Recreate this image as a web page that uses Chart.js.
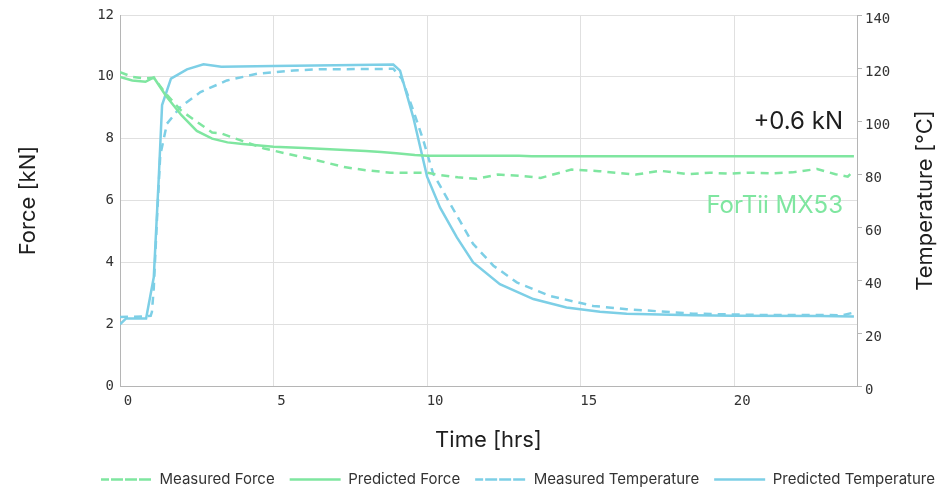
<!DOCTYPE html>
<html lang="en">
<head>
    <meta charset="UTF-8">
    <title>Force and Temperature</title>
    <style>
        html, body {
            margin: 0;
            padding: 0;
            background: #fff;
        }
        .chart-box {
            width: 950px;
            height: 489px;
        }
    </style>
    <script src="https://cdn.jsdelivr.net/npm/chart.js"></script>
</head>
<body>
    <div class="chart-box">
        <canvas id="forceChart" width="950" height="489"></canvas>
    </div>
    <script>
        // values (time in hours)
        const measForceTime = [0, 0.4, 0.8, 1.1, 1.5, 2.0, 2.5, 3.0, 3.3, 4.0, 4.7, 5.5, 6.5, 7.3, 8.0, 8.8, 10.0, 10.3, 11.0, 11.6, 12.3, 13.0, 13.7, 14.7, 15.6, 16.8, 17.6, 18.5, 19.2, 19.8, 20.5, 21.2, 21.9, 22.7, 23.3, 23.7, 23.9];
        const measForce = [10.15, 10.0, 9.95, 9.97, 9.45, 8.9, 8.55, 8.2, 8.17, 7.92, 7.68, 7.5, 7.28, 7.08, 6.98, 6.9, 6.9, 6.84, 6.75, 6.7, 6.84, 6.8, 6.73, 7.0, 6.95, 6.84, 6.96, 6.85, 6.9, 6.87, 6.9, 6.88, 6.91, 7.02, 6.85, 6.77, 6.97];

        const predForceTime = [0, 0.4, 0.83, 1.1, 1.5, 2.0, 2.5, 3.0, 3.5, 4.0, 5.0, 6.0, 7.0, 8.0, 8.5, 9.0, 9.6, 10.0, 11, 12, 13, 13.4, 15, 18, 21, 23.9];
        const predForce = [10.0, 9.88, 9.84, 9.98, 9.38, 8.76, 8.25, 8.0, 7.88, 7.83, 7.74, 7.7, 7.65, 7.6, 7.57, 7.53, 7.47, 7.45, 7.45, 7.45, 7.45, 7.43, 7.43, 7.43, 7.43, 7.43];

        const measTempTime = [0, 0.8, 1.0, 1.04, 1.1, 1.2, 1.31, 1.53, 1.96, 2.62, 3.48, 4.46, 5.65, 6.5, 8.0, 8.9, 9.18, 9.55, 9.88, 10.2, 10.42, 10.97, 11.5, 12.16, 12.92, 14.0, 15.41, 16.5, 18.66, 20.83, 23.0, 23.5, 24.0];
        const measTemp = [26, 26.3, 26.5, 28, 37, 62, 87, 99, 105.2, 110.9, 115.3, 117.8, 119.1, 119.5, 119.6, 119.7, 115.9, 104, 92.6, 80, 75.6, 64.3, 53.6, 45.4, 39.1, 34, 30.2, 29, 27.3, 26.8, 26.8, 26.6, 28];

        const predTempTime = [0, 0.2, 0.85, 1.1, 1.26, 1.37, 1.66, 2.18, 2.72, 3.3, 5, 7, 8.9, 9.12, 9.55, 10.0, 10.42, 10.97, 11.5, 12.37, 13.46, 14.54, 15.63, 16.5, 18.66, 20, 22.8, 23.9];
        const predTemp = [23.3, 25.5, 25.5, 41, 78, 106, 116, 119.5, 121.4, 120.5, 120.8, 121, 121.3, 119, 101.4, 79, 67.4, 56.1, 46.6, 38.4, 32.8, 29.6, 28, 27.3, 26.7, 26.5, 26.4, 26.2];

        const forceTicks = [0, 2, 4, 6, 8, 10, 12];
        const tempTicks = [0, 20, 40, 60, 80, 100, 120, 140];
        const timeTicks = [0, 5, 10, 15, 20];

        const green = '#7fe6a0';
        const blue = '#7dcfe6';
        const monoFont = "'DejaVu Sans Mono', monospace";
        const textFont = "Inter, 'Noto Sans', sans-serif";

        function pairs(xs, ys) {
            return xs.map((x, i) => ({ x: x, y: ys[i] }));
        }

        // annotation texts and the right axis title (reads bottom to top)
        const textPlugin = {
            id: 'extraText',
            afterDraw(chart) {
                const ctx = chart.ctx;
                const area = chart.chartArea;
                const yF = chart.scales.y;
                ctx.save();
                ctx.textAlign = 'right';
                ctx.textBaseline = 'alphabetic';
                ctx.font = '24px ' + textFont;
                ctx.fillStyle = '#1e1e1e';
                ctx.fillText('+0.6 kN', area.right - 14, yF.getPixelForValue(8.3));
                ctx.font = '24px ' + textFont;
                ctx.fillStyle = green;
                ctx.fillText('ForTii MX53', area.right - 14, yF.getPixelForValue(5.6));

                ctx.translate(925, (area.top + area.bottom) / 2);
                ctx.rotate(-Math.PI / 2);
                ctx.textAlign = 'center';
                ctx.textBaseline = 'middle';
                ctx.font = '22px ' + textFont;
                ctx.fillStyle = '#1e1e1e';
                ctx.fillText('Temperature [°C]', 0, 0);
                ctx.restore();
            }
        };

        const ctx = document.getElementById('forceChart').getContext('2d');
        new Chart(ctx, {
            type: 'line',
            data: {
                datasets: [{
                    label: 'Measured Force',
                    data: pairs(measForceTime, measForce),
                    borderColor: green,
                    backgroundColor: green,
                    borderDash: [8, 6],
                    borderWidth: 2.5,
                    yAxisID: 'y'
                }, {
                    label: 'Predicted Force',
                    data: pairs(predForceTime, predForce),
                    borderColor: green,
                    backgroundColor: green,
                    borderWidth: 2.5,
                    yAxisID: 'y'
                }, {
                    label: 'Measured Temperature',
                    data: pairs(measTempTime, measTemp),
                    borderColor: blue,
                    backgroundColor: blue,
                    borderDash: [8, 6],
                    borderWidth: 2.5,
                    yAxisID: 'y2'
                }, {
                    label: 'Predicted Temperature',
                    data: pairs(predTempTime, predTemp),
                    borderColor: blue,
                    backgroundColor: blue,
                    borderWidth: 2.5,
                    yAxisID: 'y2'
                }]
            },
            options: {
                responsive: false,
                animation: false,
                layout: { padding: { top: 15, left: 0, right: 0, bottom: -8 } },
                elements: {
                    point: { radius: 0 },
                    line: { tension: 0 }
                },
                plugins: {
                    tooltip: { enabled: false },
                    legend: {
                        position: 'bottom',
                        align: 'end',
                        labels: {
                            boxWidth: 51,
                            boxHeight: 0,
                            padding: 15,
                            color: '#333',
                            font: { family: textFont, size: 15 }
                        }
                    }
                },
                scales: {
                    x: {
                        type: 'linear',
                        min: 0,
                        max: 24,
                        afterBuildTicks: s => { s.ticks = timeTicks.map(v => ({ value: v })); },
                        afterFit: s => { s.height = 71; },
                        grid: { color: '#e0e0e0', drawTicks: false },
                        border: { color: '#b5b5b5' },
                        ticks: {
                            padding: 7,
                            labelOffset: 8,
                            color: '#333',
                            font: { family: monoFont, size: 14 }
                        },
                        title: {
                            display: true,
                            text: 'Time [hrs]',
                            color: '#1e1e1e',
                            padding: { top: 0, bottom: 3 },
                            font: { family: textFont, size: 22 }
                        }
                    },
                    y: {
                        position: 'left',
                        min: 0,
                        max: 12,
                        afterBuildTicks: s => { s.ticks = forceTicks.map(v => ({ value: v })); },
                        afterFit: s => { s.width = 120; },
                        grid: { color: '#e0e0e0', drawTicks: false },
                        border: { color: '#b5b5b5' },
                        ticks: {
                            padding: 6,
                            color: '#333',
                            font: { family: monoFont, size: 14 }
                        },
                        title: {
                            display: true,
                            text: 'Force [kN]',
                            color: '#1e1e1e',
                            padding: { top: 15, bottom: 0 },
                            font: { family: textFont, size: 22 }
                        }
                    },
                    y2: {
                        position: 'right',
                        min: 0,
                        max: 140,
                        afterBuildTicks: s => { s.ticks = tempTicks.map(v => ({ value: v })); },
                        afterFit: s => { s.width = 93; },
                        grid: { drawOnChartArea: false, color: '#b5b5b5', tickLength: 5 },
                        border: { color: '#b5b5b5' },
                        ticks: {
                            padding: 3,
                            labelOffset: 4,
                            color: '#333',
                            font: { family: monoFont, size: 14 }
                        }
                    }
                }
            },
            plugins: [textPlugin]
        });
    </script>
</body>
</html>
